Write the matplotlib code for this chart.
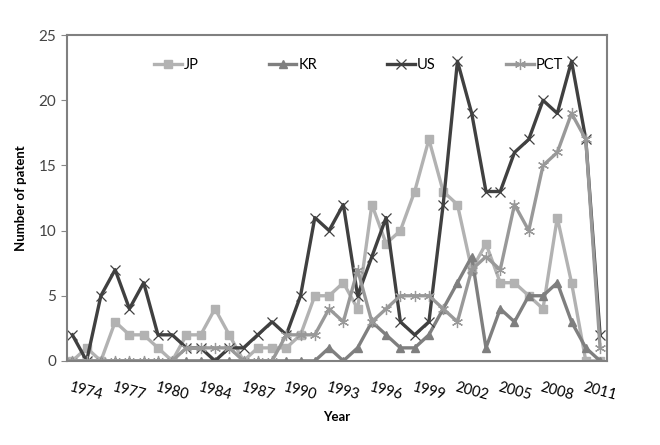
import matplotlib
matplotlib.use("Agg")
import matplotlib.pyplot as plt

plt.rcParams["font.family"] = ["Lato", "DejaVu Sans"]

# years on the category axis (1981 is not in the source data)
years = [1973, 1974, 1975, 1976, 1977, 1978, 1979, 1980,
         1982, 1983, 1984, 1985, 1986, 1987, 1988, 1989, 1990,
         1991, 1992, 1993, 1994, 1995, 1996, 1997, 1998, 1999, 2000,
         2001, 2002, 2003, 2004, 2005, 2006, 2007, 2008, 2009, 2010, 2011]

jp = [0, 1, 0, 3, 2, 2, 1, 0, 2, 2, 4, 2, 0, 1, 1, 1, 2, 5, 5,
      6, 4, 12, 9, 10, 13, 17, 13, 12, 7, 9, 6, 6, 5, 4, 11, 6, 0, 0]
kr = [0, 0, 0, 0, 0, 0, 0, 0, 0, 0, 0, 0, 0, 0, 0, 0, 0, 0, 1,
      0, 1, 3, 2, 1, 1, 2, 4, 6, 8, 1, 4, 3, 5, 5, 6, 3, 1, 0]
us = [2, 0, 5, 7, 4, 6, 2, 2, 1, 1, 0, 1, 1, 2, 3, 2, 5, 11, 10,
      12, 5, 8, 11, 3, 2, 3, 12, 23, 19, 13, 13, 16, 17, 20, 19, 23, 17, 2]
pct = [0, 0, 0, 0, 0, 0, 0, 0, 1, 1, 1, 1, 0, 0, 0, 2, 2, 2, 4,
       3, 7, 3, 4, 5, 5, 5, 4, 3, 7, 8, 7, 12, 10, 15, 16, 19, 17, 1]

shown_years = [1974, 1977, 1980, 1984, 1987, 1990, 1993, 1996,
               1999, 2002, 2005, 2008, 2011]

x = list(range(len(years)))

fig = plt.figure(figsize=(6.6, 4.45), dpi=100)
ax = fig.add_axes([0.101, 0.189, 0.819, 0.732])

ax.plot(x, jp, color="#b2b2b2", lw=2.4, marker="s", ms=6, label="JP")
ax.plot(x, kr, color="#7f7f7f", lw=2.4, marker="^", ms=6, label="KR")
ax.plot(x, us, color="#404040", lw=2.4, marker="x", ms=7, mew=0.9, label="US")
ax.plot(x, pct, color="#999999", lw=2.4, marker=(6, 2, 0), ms=8, mew=0.9,
        label="PCT")

ax.set_xlim(-0.4, 37.5)
ax.set_ylim(0, 25)
ax.set_yticks(range(0, 26, 5))
ax.set_xticks([years.index(y) for y in shown_years])
ax.set_xticklabels([str(y) for y in shown_years], rotation=-15,
                   ha="center", fontsize=10.5)
ax.tick_params(axis="x", length=0, pad=14)
ax.tick_params(axis="y", length=4, color="#888888", labelsize=11,
               labelcolor="#444444")

for s in ax.spines.values():
    s.set_color("#808080")
    s.set_linewidth(1.5)

ax.set_xlabel("Year", fontsize=9.5, fontweight="bold", labelpad=6)
ax.set_ylabel("Number of patent", fontsize=9.5, fontweight="bold", labelpad=8)

ax.legend(loc="upper center", ncol=4, frameon=False, fontsize=10.5,
          columnspacing=4.8, handlelength=1.9, handletextpad=0.15,
          bbox_to_anchor=(0.54, 0.97))

fig.savefig("out.png", dpi=100)
